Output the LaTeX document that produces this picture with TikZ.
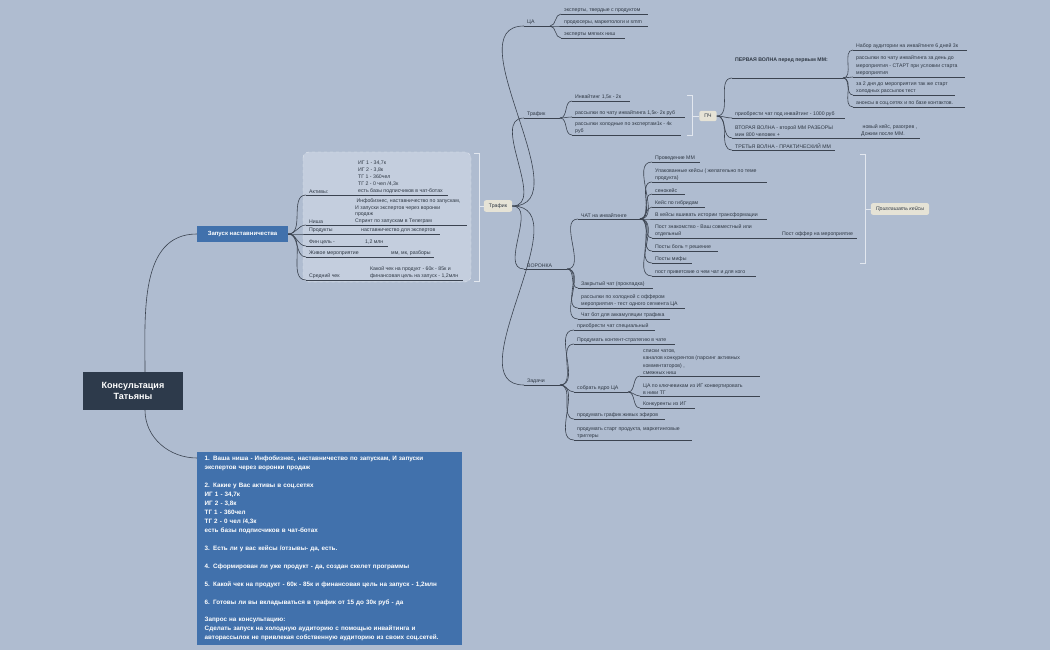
\documentclass[tikz,border=0pt]{standalone}
\usepackage{fontspec}
\setmainfont{Liberation Sans}
\begin{document}
\definecolor{bg}{HTML}{AFBCD0}
\definecolor{ln}{HTML}{3B4350}
\definecolor{tx}{HTML}{2F3844}
\definecolor{grp}{HTML}{C4CEDE}
\definecolor{br}{HTML}{E2E7EF}
\definecolor{beige}{HTML}{E6E3D6}
\definecolor{blue}{HTML}{4171AC}
\definecolor{dark}{HTML}{2D3A4B}
\begin{tikzpicture}[x=1pt,y=-1pt,
  leaf/.style={anchor=south west,inner xsep=3pt,inner ysep=1.4pt,align=left,text=tx,font=\fontsize{5.2}{7.3}\selectfont},
  ul/.style={draw=ln,line width=0.7pt},
  con/.style={draw=ln,line width=0.6pt},
  brk/.style={draw=br,line width=0.9pt},
  tag/.style={fill=beige,rounded corners=2pt,text=tx,font=\fontsize{5.2}{6}\selectfont,minimum height=10pt,inner xsep=5pt}]
\newcommand\lf[5]{\node[leaf] (#1) at (#2,#4) {#5};\coordinate (#1-e) at (#3,#4);\draw[ul] (#1.south west)--(#1-e);}
\fill[bg] (0,0) rectangle (1050,650);
\useasboundingbox (0,0) rectangle (1050,650);
% root
\node[fill=dark,text=white,font=\bfseries\fontsize{9}{11}\selectfont,align=center,minimum width=100pt,minimum height=38pt] (root) at (133,391) {Консультация\\Татьяны};
\node[fill=blue,text=white,font=\bfseries\fontsize{6}{7}\selectfont,minimum width=91pt,minimum height=16pt] (zap) at (242.5,234) {Запуск наставничества};
\node[fill=blue,text=white,font=\bfseries\fontsize{6.3}{8.95}\selectfont,anchor=north west,text width=250pt,align=left,minimum width=265pt,minimum height=193pt,inner xsep=6pt,inner ysep=4pt] (info) at (197,452) {\parindent=0pt\noindent 1. Ваша ниша - Инфобизнес, наставничество по запускам, И запуски экспертов через воронки продаж\\[8.95pt]%
2. Какие у Вас активы в соц.сетях\\ИГ 1 - 34,7к\\ИГ 2 - 3,8к\\ТГ 1 - 360чел\\ТГ 2 - 0 чел /4,3к\\есть базы подписчиков в чат-ботах\\[8.95pt]%
3. Есть ли у вас кейсы /отзывы- да, есть.\\[8.95pt]%
4. Сформирован ли уже продукт - да, создан скелет программы\\[8.95pt]%
5. Какой чек на продукт - 60к - 85к и финансовая цель на запуск - 1,2млн\\[8.95pt]%
6. Готовы ли вы вкладываться в трафик от 15 до 30к руб - да\\[8.95pt]%
Запрос на консультацию:\\Сделать запуск на холодную аудиторию с помощью инвайтинга и авторассылок не привлекая собственную аудиторию из своих соц.сетей.};
\draw[con] (root.north) ++(12,0) to[out=90,in=180] (zap.west);
\draw[con] (root.south) ++(12,0) to[out=-90,in=180] ([yshift=-6pt]info.north west);
% group
\draw[fill=grp,draw=br,dashed,rounded corners=6pt] (303,152) rectangle (471,282);
\lf{akt}{306}{448}{195}{Активы:}
\node[leaf,font=\fontsize{5.2}{7}\selectfont] (akt2) at (355,195) {ИГ 1 - 34,7к\\ИГ 2 - 3,8к\\ТГ 1 - 360чел\\ТГ 2 - 0 чел /4,3к\\есть базы подписчиков в чат-ботах};
\lf{nisha}{306}{467}{225}{Ниша}
\node[leaf,font=\fontsize{5.2}{6.6}\selectfont] (nisha2) at (352,225) {\ Инфобизнес, наставничество по запускам,\\И запуски экспертов через воронки\\продаж\\Спринт по запускам в Телеграм};
\lf{prod}{306}{440}{234}{Продукты}
\node[leaf] (prod2) at (358,234) {наставничество для экспертов};
\lf{fin}{306}{388}{246}{Фин цель -}
\node[leaf] (fin2) at (362,246) {1,2 млн};
\lf{live}{306}{434}{257}{Живое мероприятие}
\node[leaf] (live2) at (388,257) {мм, мк, разборы};
\lf{check}{306}{463}{280}{Средний чек}
\node[leaf] (check2) at (367,280) {Какой чек на продукт - 60к - 85к и\\финансовая цель на запуск - 1,2млн};
\foreach \c in {akt,nisha,prod,fin,live,check} \draw[con] (zap.east) to[out=0,in=180] (\c.south west);
% bracket 1
\draw[brk] (474,153)--(479,153)--(479,281)--(474,281);
\node[tag] (traf) at (498,206) {Трафик};
\draw[brk] (479,206)--(traf.west);
% level 1
\lf{ca}{524}{550}{26}{ЦА}
\lf{trf}{524}{560}{118}{Трафик}
\lf{vor}{524}{567}{269}{ВОРОНКА}
\lf{zad}{524}{560}{385}{Задачи}
\foreach \c in {ca,trf,vor,zad} \draw[con] (traf.east) to[out=0,in=180] (\c.south west);
% CA
\lf{e1}{561}{648}{14}{эксперты, твердые с продуктом}
\lf{e2}{561}{648}{26}{продюсеры, маркетологи и smm}
\lf{e3}{561}{625}{38}{эксперты мягких ниш}
\foreach \c in {e1,e2,e3} \draw[con] (ca-e) to[out=0,in=180] (\c.south west);
% Traffic
\lf{i1}{572}{630}{101}{Инвайтинг  1,5к - 2к}
\lf{i2}{572}{685}{117}{рассылки по чату инвайтинга  1,5к- 2к руб}
\lf{i3}{572}{681}{135}{рассылки холодные по экспертам1к - 4к\\руб}
\foreach \c in {i1,i2,i3} \draw[con] (trf-e) to[out=0,in=180] (\c.south west);
\draw[brk] (687,95)--(692,95)--(692,135)--(687,135);
\node[tag] (pch) at (708,116) {ПЧ};
\draw[brk] (692,116)--(pch.west);
\lf{w1}{732}{843}{78}{\textbf{ПЕРВАЯ ВОЛНА перед первым ММ:}\\\mbox{}\\\mbox{}}
\lf{w2}{732}{845}{118}{приобрести чат под инвайтинг - 1000 руб}
\lf{w3}{732}{920}{138}{ВТОРАЯ ВОЛНА - второй ММ РАЗБОРЫ\\мин 800 человек +}
\node[leaf] (w3b) at (858,138) {\ новый кейс, разогрев ,\\ Дожим после ММ.};
\lf{w4}{732}{835}{150}{ТРЕТЬЯ ВОЛНА - ПРАКТИЧЕСКИЙ ММ}
\foreach \c in {w1,w2,w3,w4} \draw[con] (pch.east) to[out=0,in=180] (\c.south west);
\lf{a1}{853}{967}{50}{Набор аудитории на инвайтинге 6 дней 3к}
\lf{a2}{853}{965}{77}{рассылки по чату инвайтинга за день до\\мероприятия - СТАРТ  при условии старта\\мероприятия}
\lf{a3}{853}{955}{95}{за 2 дня до мероприятия так же старт\\холодных рассылок тест}
\lf{a4}{853}{965}{107}{анонсы в соц.сетях и по базе контактов.}
\foreach \c in {a1,a2,a3,a4} \draw[con] (w1-e) to[out=0,in=180] (\c.south west);
% Voronka
\lf{chat}{578}{640}{219}{ЧАТ на инвайтинге}
\lf{zak}{578}{653}{288}{Закрытый чат (прокладка)}
\lf{ras}{578}{685}{308}{рассылки по холодной с оффером\\мероприятия - тест одного сегмента ЦА}
\lf{bot}{578}{670}{319}{Чат бот для аккамуляции трафика}
\foreach \c in {chat,zak,ras,bot} \draw[con] (vor-e) to[out=0,in=180] (\c.south west);
\lf{c1}{652}{700}{162}{Проведение ММ}
\lf{c2}{652}{767}{182}{Упакованные кейсы ( желательно по теме\\продукта)}
\lf{c3}{652}{685}{194}{сенокейс}
\lf{c4}{652}{705}{207}{Кейс по гибридам}
\lf{c5}{652}{767}{219}{В кейсы вшивать истории трансформации}
\lf{c6}{652}{857}{238}{Пост знакомство - Ваш совместный или\\отдельный}
\node[leaf] (c6b) at (779,238) {Пост оффер на мероприятие};
\lf{c7}{652}{718}{251}{Посты боль = решение}
\lf{c8}{652}{692}{263}{Посты мифы}
\lf{c9}{652}{756}{276}{пост приветсвие о чем чат и для кого}
\foreach \c in {c1,c2,c3,c4,c5,c6,c7,c8,c9} \draw[con] (chat-e) to[out=0,in=180] (\c.south west);
\draw[brk] (860,154)--(865,154)--(865,263)--(860,263);
\node[tag,font=\itshape\fontsize{5.2}{6}\selectfont,minimum width=56pt] (kejs) at (900,209) {Приглашать кейсы};
\draw[brk] (865,209)--(kejs.west);
% Zadachi
\lf{t1}{574}{655}{330}{приобрести чат специальный}
\lf{t2}{574}{675}{344}{Продумать контент-стратегию в чате}
\lf{t3}{574}{628}{392}{собрать ядро ЦА}
\lf{t4}{574}{665}{419}{продумать график живых эфиров}
\lf{t5}{574}{692}{440}{продумать старт продукта, маркетинговые\\триггеры}
\foreach \c in {t1,t2,t3,t4,t5} \draw[con] (zad-e) to[out=0,in=180] (\c.south west);
\lf{s1}{640}{760}{376}{списки чатов,\\каналов конкурентов (парсинг активных\\комментаторов) ,\\смежных ниш}
\lf{s2}{640}{760}{396}{ЦА по ключевикам из ИГ конвертировать\\в ники ТГ}
\lf{s3}{640}{695}{408}{Конкуренты из ИГ}
\foreach \c in {s1,s2,s3} \draw[con] (t3-e) to[out=0,in=180] (\c.south west);
\end{tikzpicture}
\end{document}
